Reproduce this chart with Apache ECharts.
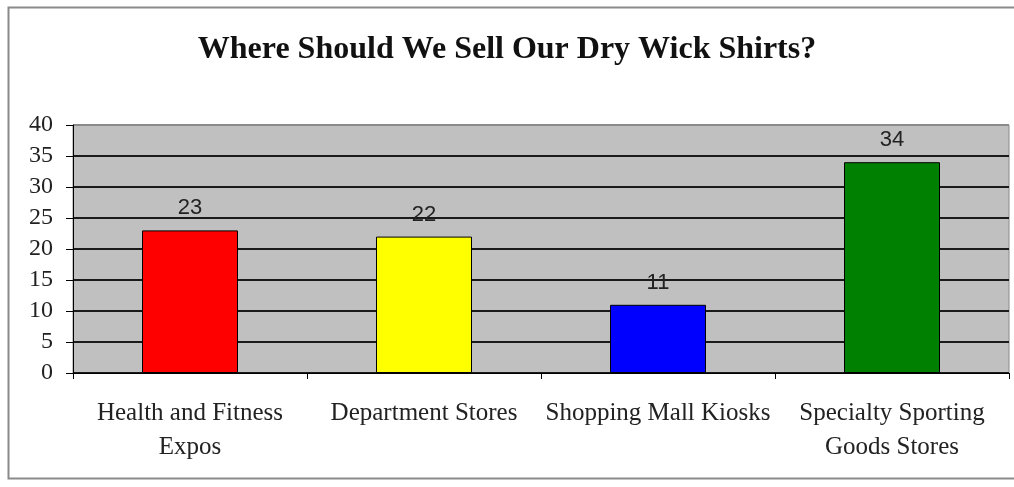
<!DOCTYPE html>
<html>
<head>
<meta charset="utf-8">
<script src="https://cdn.jsdelivr.net/npm/echarts@6/dist/echarts.min.js"></script>
<style>
  html, body { margin: 0; padding: 0; background: #ffffff; }
  #chart { width: 1014px; height: 487px; }
</style>
</head>
<body>
<div id="chart"></div>
<script>
// Survey results: preferred sales channel for dry wick shirts
const chartTitle = 'Where Should We Sell Our Dry Wick Shirts?';
const categories = ['Health and Fitness\nExpos', 'Department Stores', 'Shopping Mall Kiosks', 'Specialty Sporting\nGoods Stores'];
const votes = [23, 22, 11, 34];
const barColors = ['#ff0000', '#ffff00', '#0000ff', '#008000'];
const yTicks = [0, 5, 10, 15, 20, 25, 30, 35, 40];

// gridlines are dark; the top one doubles as the grey plot border
const gridLineColors = yTicks.map((v, i) => (i === yTicks.length - 1 ? '#8a8a8a' : '#1a1a1a'));

const chart = echarts.init(document.getElementById('chart'));

chart.setOption({
  animation: false,
  backgroundColor: '#ffffff',
  title: {
    text: chartTitle,
    left: 'center',
    top: 29,
    textStyle: {
      fontFamily: 'Liberation Serif',
      fontWeight: 'bold',
      fontSize: 32,
      color: '#111111'
    }
  },
  graphic: [
    {
      // outer chart frame
      type: 'rect',
      left: 6, top: 5,
      shape: { width: 1030, height: 471 },
      style: { fill: 'none', stroke: '#8a8a8a', lineWidth: 2 },
      silent: true,
      z: -10
    }
  ],
  grid: {
    left: 73, right: 5, top: 125, bottom: 114,
    show: true,
    backgroundColor: '#c0c0c0',
    borderColor: '#8a8a8a',
    borderWidth: 1
  },
  xAxis: {
    type: 'category',
    data: categories,
    axisLine: { lineStyle: { color: '#000000', width: 1 } },
    axisTick: { show: true, alignWithLabel: false, length: 6, lineStyle: { color: '#000000' } },
    axisLabel: {
      fontFamily: 'Liberation Serif',
      fontSize: 25,
      color: '#222222',
      lineHeight: 34,
      margin: 23,
      interval: 0
    }
  },
  yAxis: {
    type: 'value',
    min: 0, max: 40, interval: 5,
    axisLine: { show: true, lineStyle: { color: '#000000', width: 1 } },
    axisTick: { show: true, length: 7, lineStyle: { color: '#000000' } },
    splitLine: { show: true, lineStyle: { color: gridLineColors, width: 2 } },
    axisLabel: {
      fontFamily: 'Liberation Serif',
      fontSize: 24,
      color: '#222222',
      margin: 20,
      formatter: v => (yTicks.indexOf(v) >= 0 ? String(v) : '')
    }
  },
  series: [{
    type: 'bar',
    data: votes.map((v, i) => ({ value: v, itemStyle: { color: barColors[i] } })),
    barWidth: 96,
    itemStyle: { borderColor: '#000000', borderWidth: 1 },
    label: {
      show: true,
      position: 'top',
      distance: 11,
      fontFamily: 'Liberation Sans',
      fontSize: 22,
      color: '#222222'
    }
  }]
});
</script>
</body>
</html>
